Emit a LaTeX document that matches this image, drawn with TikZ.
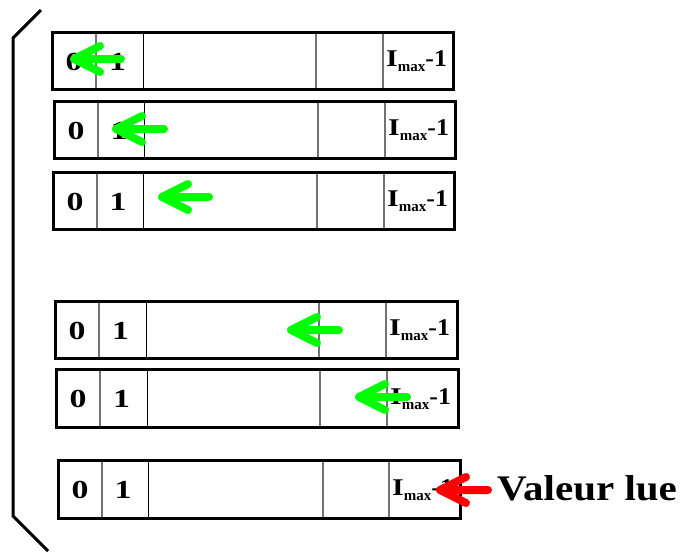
\documentclass[tikz,border=0pt]{standalone}
\usepackage{fontspec}
\setmainfont{Liberation Serif}
\begin{document}
\begin{tikzpicture}[x=1pt,y=-1pt,
  outer/.style={draw=black,line width=3pt},
  gdiv/.style={draw=black!55,line width=1.2pt},
  kdiv/.style={draw=black,line width=1pt},
  lbl/.style={font=\fontsize{26}{26}\selectfont\bfseries,inner sep=0pt,anchor=center},
  imax/.style={font=\fontsize{24}{24}\selectfont\bfseries,inner sep=0pt,anchor=west},
  garrow/.style={draw={rgb,255:red,0;green,255;blue,0},line width=8pt,line cap=round,line join=round},
  rarrow/.style={draw={rgb,255:red,255;green,0;blue,0},line width=8pt,line cap=round,line join=round},
  bracket/.style={draw=black,line width=3pt}]
\useasboundingbox (0,0) rectangle (684,552);
% bracket
\draw[bracket] (41,10) -- (13,38) -- (13,516) -- (48,551);
% boxes: left, right, top, bottom, d1, d2, d3, d4
\foreach \n/\L/\R/\T/\B/\da/\db/\dc/\dd in {
  1/52/453/32/89/96/143/316/383,
  2/54/455/101/158/98/144/318/385,
  3/53/454/172/229/97/143/317/384,
  4/55/457/301/358/99/146/319/386,
  5/56/458/369/427/100/147/320/387,
  6/58/460/460/518/102/148/323/389}{
  \draw[gdiv] (\da,\T) -- (\da,\B);
  \draw[kdiv] (\db,\T) -- (\db,\B);
  \draw[gdiv] (\dc,\T) -- (\dc,\B);
  \draw[gdiv] (\dd,\T) -- (\dd,\B);
  \draw[outer] (\L,\T) rectangle (\R,\B);
  \node[lbl] (z\n) at ({(\L+\da)/2},{(\T+\B)/2+1}) {\scalebox{1.3}[1]{0}};
  \node[lbl] (o\n) at ({(\da+\db)/2-2},{(\T+\B)/2+1}) {\scalebox{1.3}[1]{1}};
  \node[imax] (m\n) at ({\dd+3},{(\T+\B)/2+1}) {\scalebox{1.25}[1]{I}\raisebox{-5pt}{\fontsize{15}{15}\selectfont max}\scalebox{1.08}[1]{-1}};
}
% arrows
\coordinate (t1) at (74,59);  \coordinate (s1) at (121,59);
\coordinate (t2) at (116,129); \coordinate (s2) at (164,129);
\coordinate (t3) at (162,197); \coordinate (s3) at (209,197);
\coordinate (t4) at (291,330); \coordinate (s4) at (339,330);
\coordinate (t5) at (359,397); \coordinate (s5) at (407,397);
\coordinate (t6) at (440,490); \coordinate (s6) at (488,490);
\foreach \i in {1,...,5}{
  \draw[garrow] (s\i) -- (t\i) -- ++(26,-13) (t\i) -- ++(26,13);
}
\draw[rarrow] (s6) -- (t6) -- ++(26,-13) (t6) -- ++(26,13);
\node[font=\fontsize{36}{36}\selectfont\bfseries,inner sep=0pt,anchor=west] (val) at (497,488) {\scalebox{1.14}[1]{Valeur lue}};
\end{tikzpicture}
\end{document}
